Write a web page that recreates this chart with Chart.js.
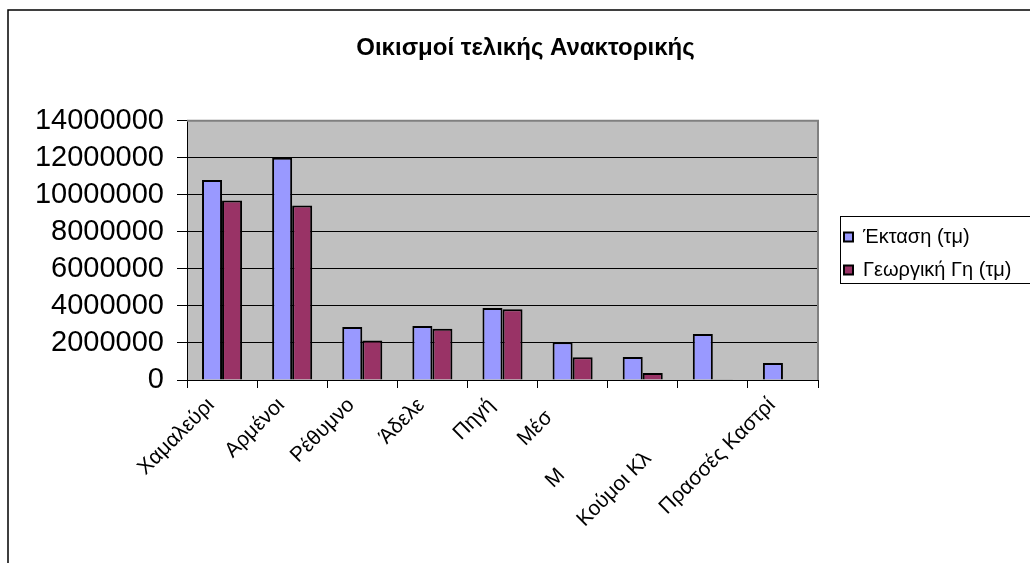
<!DOCTYPE html>
<html>
<head>
<meta charset="utf-8">
<script src="https://cdn.jsdelivr.net/npm/chart.js@4.4.1/dist/chart.umd.min.js"></script>
<style>
  html, body { margin: 0; padding: 0; background: #fff; }
  #wrap { width: 1030px; height: 563px; }
</style>
</head>
<body>
<div id="wrap"><canvas id="chart" width="1030" height="563"></canvas></div>
<script>
const chartTitle = "Οικισμοί τελικής Ανακτορικής";
const categories = ["Χαμαλεύρι", "Αρμένοι", "Ρέθυμνο", "Άδελε", "Πηγή", "Μέσ", "Μ", "Κούμοι Κλ", "Πρασσές Καστρί"];
const seriesNames = ["Έκταση (τμ)", "Γεωργική Γη (τμ)"];
const areaValues = [10800000, 12000000, 2860000, 2920000, 3890000, 2040000, 1240000, 2490000, 920000];
const farmValues = [9700000, 9420000, 2130000, 2770000, 3820000, 1230000, 380000, 40000, null];
const yTicks = [0, 2000000, 4000000, 6000000, 8000000, 10000000, 12000000, 14000000];

// excel clipped a few long labels; push the visible bit further down the slant
const labelShift = [0, 0, 0, 0, 0, 3, 17, 13, 0];

const FONT = "'Liberation Sans', Arial, sans-serif";

const excelFrame = {
  id: "excelFrame",
  beforeLayout(chart) {
    const lg = chart.legend;
    if (lg && !lg._widePatched) {
      const fit = lg.fit;
      lg.fit = function () {
        fit.call(this);
        this.width = 207;
      };
      lg._widePatched = true;
    }
  },
  beforeDraw(chart) {
    const { ctx, chartArea: a } = chart;
    ctx.save();
    ctx.fillStyle = "#c0c0c0";
    ctx.fillRect(a.left, a.top, a.right - a.left, a.bottom - a.top);
    ctx.restore();
  },
  afterLayout(chart) {
    const lg = chart.legend;
    if (!lg) {
      return;
    }
    lg.left = 831;
    lg.right = 1040;
    lg.top = 124;
    lg.bottom = 383;
    lg.height = 259;
  },
  beforeDatasetsDraw(chart) {
    const { ctx, chartArea: a } = chart;
    ctx.save();
    ctx.strokeStyle = "#808080";
    ctx.lineWidth = 2;
    ctx.beginPath();
    ctx.moveTo(a.left, a.top);
    ctx.lineTo(a.right, a.top);
    ctx.lineTo(a.right, a.bottom);
    ctx.stroke();
    ctx.restore();
  },
  afterDraw(chart) {
    const { ctx } = chart;
    ctx.save();
    ctx.strokeStyle = "#000";
    ctx.lineWidth = 1.5;
    ctx.strokeRect(8, 10, 1200, 800);
    ctx.lineWidth = 1;
    ctx.strokeRect(840.5, 216.5, 300, 67);
    ctx.restore();
  },
};

new Chart(document.getElementById("chart"), {
  type: "bar",
  data: {
    labels: categories,
    datasets: [
      {
        label: seriesNames[0],
        data: areaValues,
        backgroundColor: "#9999ff",
        borderColor: "#000",
        borderWidth: 2,
      },
      {
        label: seriesNames[1],
        data: farmValues,
        backgroundColor: "#993366",
        borderColor: "#000",
        borderWidth: 2,
      },
    ],
  },
  options: {
    responsive: false,
    animation: false,
    events: [],
    datasets: {
      bar: { categoryPercentage: 0.5714, barPercentage: 1.0 },
    },
    layout: { padding: { left: 26, right: 5, top: 0, bottom: 0 } },
    plugins: {
      title: {
        display: true,
        text: chartTitle,
        color: "#000",
        font: { size: 24, weight: "bold", family: FONT },
        padding: { top: 34, bottom: 58 },
      },
      legend: {
        position: "right",
        align: "center",
        labels: {
          boxWidth: 9,
          boxHeight: 9,
          padding: 13,
          color: "#000",
          font: { size: 20, family: FONT },
        },
      },
      tooltip: { enabled: false },
    },
    scales: {
      x: {
        grid: { drawOnChartArea: false, drawTicks: true, tickLength: 8, color: "#000", offset: true },
        border: { color: "#000", width: 1 },
        ticks: {
          autoSkip: false,
          minRotation: 45,
          maxRotation: 45,
          padding: 5,
          labelOffset: -11,
          color: "#000",
          font: { size: 21, family: FONT },
          callback: (value, index) => categories[index] + "\u00a0".repeat(labelShift[index]),
        },
        afterFit(scale) {
          scale.height = 183;
        },
      },
      y: {
        min: 0,
        max: 14000000,
        afterBuildTicks(scale) {
          scale.ticks = yTicks.map((v) => ({ value: v }));
        },
        grid: { color: "#000", tickLength: 10 },
        border: { color: "#000", width: 1 },
        ticks: {
          autoSkip: false,
          padding: 13,
          color: "#000",
          font: { size: 29, family: FONT },
          callback: (value) => String(value),
        },
        afterFit(scale) {
          scale.width = 161;
        },
      },
    },
  },
  plugins: [excelFrame],
});
</script>
</body>
</html>
